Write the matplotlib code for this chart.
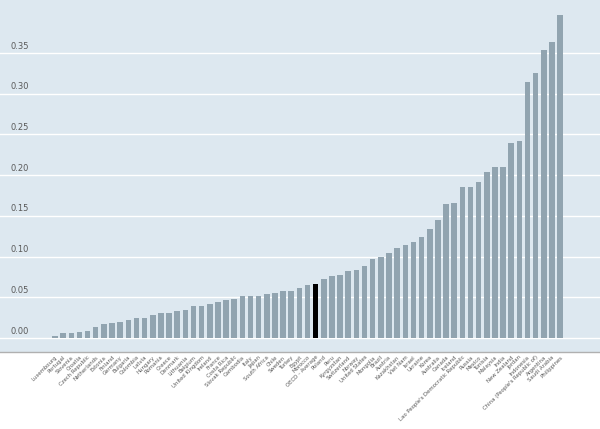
import numpy as np
from matplotlib import pyplot as plt
from matplotlib import transforms

countries = [
    'Luxembourg', 'Portugal', 'Slovenia', 'Croatia', 'Czech Republic', 'Netherlands',
    'Estonia', 'Finland', 'Germany', 'Bulgaria', 'Colombia', 'Latvia', 'Hungary',
    'Romania', 'Greece', 'Denmark', 'Lithuania', 'Belgium', 'United Kingdom', 'Ireland',
    'France', 'Costa Rica', 'Slovak Republic', 'Cambodia', 'Italy', 'Japan',
    'South Africa', 'Chile', 'Sweden', 'Turkey', 'Egypt', 'Morocco', 'OECD - Average',
    'Poland', 'Peru', 'Kyrgyzstan', 'Switzerland', 'Norway', 'United States', 'Mongolia',
    'Brazil', 'Austria', 'Kazakhstan', 'Viet Nam', 'Israel', 'Ukraine', 'Korea',
    'Australia', 'Canada', 'Iceland', "Lao People's Democratic Republic", 'Russia',
    'Mexico', 'Tunisia', 'Malaysia', 'India', 'New Zealand', 'Jordan', 'Indonesia',
    "China (People's Republic of)", 'Argentina', 'Saudi Arabia', 'Philippines',
]
values = [
    0.003, 0.006, 0.006, 0.007, 0.009, 0.014, 0.017, 0.018, 0.020, 0.022, 0.025,
    0.025, 0.028, 0.031, 0.031, 0.033, 0.034, 0.039, 0.039, 0.042, 0.044, 0.047,
    0.048, 0.052, 0.052, 0.052, 0.054, 0.056, 0.058, 0.058, 0.061, 0.065, 0.066,
    0.072, 0.076, 0.078, 0.083, 0.084, 0.088, 0.097, 0.100, 0.105, 0.111, 0.114,
    0.118, 0.124, 0.134, 0.145, 0.165, 0.166, 0.186, 0.186, 0.192, 0.204, 0.210,
    0.210, 0.239, 0.242, 0.314, 0.326, 0.354, 0.363, 0.397,
]
yticks = [0.00, 0.05, 0.10, 0.15, 0.20, 0.25, 0.30, 0.35]
highlight = 'OECD - Average'

bg = '#dde8f0'
bar_color = '#91a4b0'
text_color = '#595959'

fig = plt.figure(figsize=(6, 4.29), dpi=100)
ax = fig.add_axes([0, 1 - 352 / 429, 1, 352 / 429])
ax.set_facecolor(bg)

x = np.arange(len(countries))
colors = ['black' if c == highlight else bar_color for c in countries]
ax.bar(x, values, width=0.68, color=colors, zorder=3)

ax.set_xlim(-6.75, 66.9)
ax.set_ylim(-0.017, 0.415)

# gridlines + labels sitting above them, inside the plot
for t in yticks:
    ax.axhline(t, color='white', linewidth=1.0, zorder=1)
trans = transforms.blended_transform_factory(ax.transAxes, ax.transData)
for t in yticks:
    ax.text(0.017, t + 0.003, '%.2f' % t, transform=trans, fontsize=6,
            color=text_color, ha='left', va='bottom')

ax.set_yticks([])
ax.set_xticks(x)
ax.set_xticklabels(countries, rotation=45, ha='right', rotation_mode='anchor',
                   fontsize=3.9, color=text_color,
                   family=['Liberation Sans Narrow', 'DejaVu Sans'])
ax.tick_params(axis='x', length=0, pad=2)

for side in ['top', 'left', 'right']:
    ax.spines[side].set_visible(False)
ax.spines['bottom'].set_color('#b0b0b0')
ax.spines['bottom'].set_linewidth(1.0)

fig.savefig('out.png', dpi=100)
